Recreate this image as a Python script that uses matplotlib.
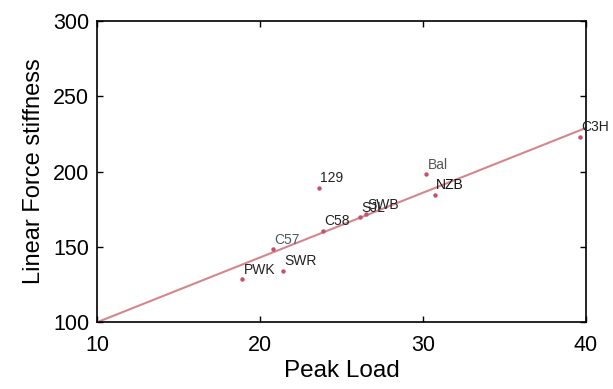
import matplotlib
matplotlib.use("Agg")
import matplotlib.pyplot as plt
import numpy as np

plt.rcParams['font.family'] = ['Liberation Sans', 'DejaVu Sans']

strains = ["PWK", "SWR", "C57", "C58", "129", "SJL", "SWB", "Bal", "NZB", "C3H"]
peak_load = [18.9, 21.4, 20.8, 23.85, 23.6, 26.1, 26.5, 30.2, 30.7, 39.65]
stiffness = [128.4, 134.1, 148.3, 160.5, 189.2, 169.5, 171.5, 198.1, 184.4, 223.1]
label_colors = ["#222222", "#222222", "#4a5a60", "#222222", "#222222",
                "#222222", "#222222", "#555555", "#111111", "#222222"]

fit_x = [10, 40]
fit_y = [100, 229]

fig = plt.figure(figsize=(6.13, 3.89), dpi=100)
ax = fig.add_axes([0.159, 0.172, 0.797, 0.774])

ax.plot(fit_x, fit_y, color="#d4868f", lw=1.5, zorder=2)
ax.plot(peak_load, stiffness, 'o', color="#c9506a", ms=3.2, mec='none', zorder=3)
for s, x, y, c in zip(strains, peak_load, stiffness, label_colors):
    ax.annotate(s, (x, y), xytext=(1, 2), textcoords='offset points',
                ha='left', va='bottom', fontsize=10, color=c, zorder=4)

ax.set_xlim(10, 40)
ax.set_ylim(100, 300)
ax.set_xticks([10, 20, 30, 40])
ax.set_yticks([100, 150, 200, 250, 300])
ax.tick_params(direction='in', top=True, right=True, length=4, labelsize=15.5, width=1)
ax.tick_params(axis='x', pad=9)
ax.tick_params(axis='y', pad=6)
for sp in ax.spines.values():
    sp.set_linewidth(1.2)
ax.set_xlabel("Peak Load", fontsize=17.5, labelpad=3)
ax.set_ylabel("Linear Force stiffness", fontsize=17, labelpad=6)

fig.savefig("out.png", dpi=100)
